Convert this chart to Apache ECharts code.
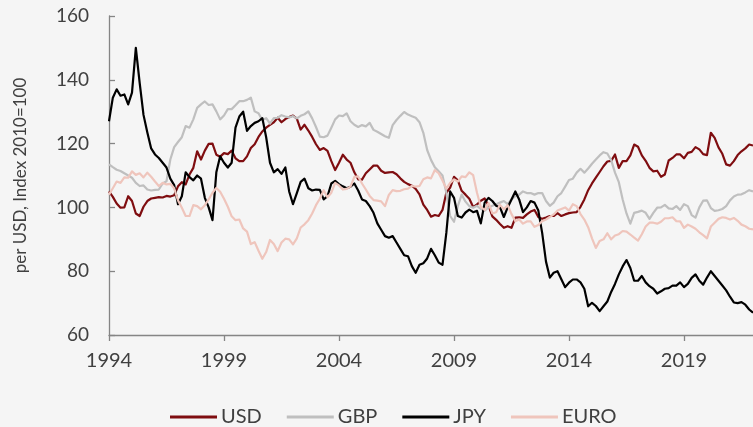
<!DOCTYPE html>
<html>
<head>
<meta charset="utf-8">
<script src="https://cdn.jsdelivr.net/npm/echarts@6/dist/echarts.min.js"></script>
<style>
  html, body { margin: 0; padding: 0; background: #f5f5f5; }
  #chart { width: 753px; height: 427px; }
</style>
</head>
<body>
<div id="chart"></div>
<script>
// Bimonthly observations, January 1994 onwards (index 2010 = 100, per USD)
const startYear = 1994;
const stepMonths = 2;
const tickYears = ['1994', '1999', '2004', '2009', '2014', '2019'];
const yTicks = [60, 80, 100, 120, 140, 160];

const usd = [
  105, 103.3, 101.2, 99.9, 100, 103.5, 102, 98.1, 97.3, 100.2, 102, 102.8, 103, 103.2, 103.1, 103.6, 103.4, 103.8, 106.6, 107.9, 107.2, 110.3, 112.4, 117.6,
  115, 117.8, 119.9, 120, 116.5, 115.9, 117, 116.7, 117.8, 115.4, 114.5, 114.5, 116, 118.6, 119.8, 122.1, 123.8, 125, 125.9, 126.7, 128.1, 126.7, 127.7, 128.3,
  128.8, 127.8, 124.4, 125.9, 124.1, 122.1, 119.8, 118, 118.6, 117.7, 114.5, 111.7, 114, 116.5, 115, 114, 111, 108.8, 108.7, 110.7, 111.9, 113.1, 113.1, 111.5,
  110.8, 111, 111.1, 110.4, 109.1, 108, 107.3, 106.8, 105.8, 104.1, 100.9, 99.2, 97.1, 97.6, 97.3, 99.2, 104.6, 106.2, 109.6, 108.5, 105.2, 104, 102.7, 100.1,
  100.9, 102.1, 102.8, 100.6, 97.2, 96.1, 94.8, 93.6, 94.1, 93.6, 96.8, 96.9, 96.7, 97.8, 98.7, 99.2, 97, 96.4, 96.8, 97.3, 97.3, 98.2, 97.3, 97.8,
  98.2, 98.4, 98.5, 100.2, 102.5, 105.4, 107.5, 109.3, 111.1, 112.9, 114.4, 114.6, 116.6, 112.4, 114.5, 114.5, 116.3, 119.7, 119, 116.3, 114.6, 112.4, 111.3, 111.5,
  109.6, 110.3, 114.7, 115.5, 116.6, 116.6, 115.4, 117.1, 117.4, 118.9, 118.2, 116.7, 116.4, 123.4, 121.8, 118.8, 116.8, 113.5, 113.1, 114.5, 116.4, 117.6, 118.5, 119.7, 119.4
];

const gbp = [
  113.5, 112.6, 111.8, 111.4, 110.7, 110, 109.3, 107.7, 106.7, 106.9, 105.6, 105.3, 105.5, 105.6, 107.5, 108.2, 115, 118.9, 120.5, 122, 125.5, 125, 127.6, 131.2,
  132.3, 133.2, 132.1, 132.3, 130.1, 127.6, 128.8, 130.8, 130.8, 132, 133.3, 133.3, 133.7, 134.4, 130.1, 129.5, 127.3, 128, 126.3, 128, 128.1, 128.9, 128.5, 128.2,
  128.6, 127.9, 128.7, 129.2, 130.1, 127.9, 125.2, 122.2, 122, 122.5, 125, 127.6, 128.8, 128.6, 129.5, 127, 125.9, 125.2, 125.8, 125.4, 126.5, 124.3, 123.7, 123,
  122.3, 121.8, 125.8, 127.4, 128.7, 129.9, 129.1, 128.6, 128.1, 126.7, 123.4, 118, 114.9, 112.6, 111.3, 110, 104.6, 97.3, 95.5, 100.4, 104, 101.8, 100.4, 99.9,
  100.5, 99.5, 99, 100, 100.5, 101, 101.5, 102, 101, 102.5, 103.5, 104, 105, 104.5, 104.5, 104, 104.5, 104.5, 102, 100.5, 101.5, 103.5, 104.5, 106.5,
  108.6, 109, 110.9, 112.1, 110.9, 112.2, 113.7, 115, 116.3, 117.3, 116.9, 114.8, 110.9, 107.9, 102.5, 98.1, 94.9, 98.3, 98.6, 99, 98.3, 96.4, 98.3, 99.9,
  100, 100.8, 99.7, 99.5, 100.4, 99.2, 101, 100.4, 97.6, 96.8, 100, 102.1, 102.2, 99.8, 98.9, 99.1, 99.5, 100.4, 102.2, 103.4, 104, 104.1, 104.7, 105.4, 105
];

const jpy = [
  127, 134.4, 137, 135, 135.4, 132.3, 136, 150, 139, 129, 123.5, 118.5, 116.6, 115.5, 114, 112.5, 109, 107, 101, 103.5, 111, 109.5, 108.5, 110,
  109, 103, 100, 96, 111, 116, 114, 112.5, 114, 125, 128.5, 130, 124, 125.5, 126.5, 127, 128, 122, 114, 111, 112, 110.5, 112.5, 105,
  101, 104.5, 108, 109, 106, 105.3, 105.6, 105.5, 102.5, 103.5, 107.5, 108.3, 107.3, 106.6, 106, 106.5, 107.5, 105.3, 102.5, 102, 100.4, 98.3, 95, 93,
  91, 90.5, 91, 89, 87, 85, 84.7, 81.6, 79.5, 82, 82.5, 84, 87, 85, 82.7, 82, 92, 105, 103, 97.3, 96.8, 98.4, 99.3, 98.5,
  98.9, 95, 101.5, 103, 102, 100.5, 100, 97, 100, 102.5, 105, 102.5, 98.5, 100, 102, 101.5, 99, 92, 83, 78, 79.5, 80, 77.5, 75,
  76.4, 77.4, 77.4, 76.5, 74.5, 69, 70.1, 69.1, 67.5, 69, 70.5, 73.5, 76, 79, 81.5, 83.5, 81, 77, 77, 78.5, 76.5, 75.3, 74.5, 73,
  73.7, 74.5, 74.7, 75.5, 75.5, 76.5, 75, 76, 77.9, 79, 77, 75.8, 78, 80, 78.5, 77, 75.5, 74, 72, 70.2, 70, 70.3, 69.5, 68, 67
];

const euro = [
  104, 106, 108.1, 107.7, 109.4, 109.3, 111.3, 110.2, 110.7, 109.4, 110.9, 109.6, 108.1, 106.7, 107.7, 107.2, 107.4, 106, 102.2, 99.9, 97.3, 97.3, 100.7, 100.4,
  99.4, 100.7, 102.5, 104.6, 106.1, 104.9, 102.7, 100.2, 97.2, 96, 96.2, 93.4, 92.4, 88.5, 89.1, 86.4, 83.9, 86, 89.8, 88.5, 86.3, 89, 90.2, 90,
  88.4, 90.3, 93.7, 94.7, 96, 98.1, 100.7, 102.7, 105.4, 103.2, 104.6, 107.7, 106.9, 105.6, 105.8, 106.5, 109.6, 109.7, 107.5, 105.6, 103.6, 102.3, 102.1, 101.9,
  100.4, 103.9, 105.4, 105.1, 105.2, 105.7, 105.9, 106.7, 106.5, 106.7, 108.8, 109.4, 109.1, 111.7, 110.7, 108.4, 105.9, 107.7, 108.8, 108.1, 109.7, 109.5, 111, 110.1,
  104.6, 100.1, 99.2, 101.4, 98.1, 98.5, 100.8, 99.4, 100.7, 97.9, 95.7, 96.2, 94.9, 95.6, 95.6, 93.9, 94.5, 95.7, 96.2, 97, 97.8, 99, 99.5, 100,
  99, 101, 100.4, 97.9, 96.2, 93.8, 90.3, 87.3, 89.5, 90, 91.9, 90, 91.2, 91.6, 92.6, 92.4, 91.5, 90.5, 89.6, 91.6, 94, 95.2, 95.2, 94.9,
  95.5, 96.6, 96.6, 96.9, 95.7, 95.6, 93.6, 94.6, 94, 93.3, 92.2, 91.3, 90.3, 94, 95.2, 96.4, 96.9, 96.7, 96.2, 96.7, 95.8, 94.6, 94.1, 93.3, 93.1
];

// Category labels: one per observation, "YYYY-MM"
const dates = usd.map((_, i) => {
  const m = i * stepMonths;
  const y = startYear + Math.floor(m / 12);
  const mm = (m % 12) + 1;
  return y + '-' + (mm < 10 ? '0' + mm : mm);
});
const perTick = 60 / stepMonths; // five years between labelled ticks

const textColor = '#404040';
const axisColor = '#858585';
const font = 'Lato, "Open Sans", sans-serif';

const chart = echarts.init(document.getElementById('chart'), null, { renderer: 'canvas' });

function lineSeries(name, data, color, width) {
  return {
    name: name,
    type: 'line',
    data: data,
    showSymbol: false,
    symbol: 'none',
    smooth: false,
    lineStyle: { color: color, width: width, join: 'round' },
    itemStyle: { color: color },
    emphasis: { disabled: true },
    animation: false
  };
}

chart.setOption({
  backgroundColor: '#f5f5f5',
  animation: false,
  textStyle: { fontFamily: font },
  grid: { left: 109, right: 0, top: 16, bottom: 92, containLabel: false },
  legend: {
    top: 402,
    left: 165,
    icon: 'rect',
    itemWidth: 47,
    itemHeight: 3,
    itemGap: 25,
    textStyle: { color: textColor, fontSize: 20, fontFamily: font, padding: [0, 0, 0, -1] },
    data: ['USD', 'GBP', 'JPY', 'EURO']
  },
  xAxis: {
    type: 'category',
    data: dates,
    boundaryGap: false,
    axisLine: { show: true, lineStyle: { color: axisColor, width: 1.3 } },
    axisTick: { show: true, interval: perTick - 1, length: 6, lineStyle: { color: axisColor, width: 1.3 } },
    axisLabel: {
      interval: perTick - 1,
      color: textColor,
      fontSize: 20,
      fontFamily: font,
      margin: 16,
      formatter: (v, i) => tickYears[i / perTick] || ''
    },
    splitLine: { show: false }
  },
  yAxis: {
    type: 'value',
    min: yTicks[0],
    max: yTicks[yTicks.length - 1],
    interval: 20,
    name: 'per USD, Index 2010=100',
    nameLocation: 'middle',
    nameGap: 80,
    nameRotate: 90,
    nameTextStyle: { color: textColor, fontSize: 17, fontFamily: font },
    axisLine: { show: true, lineStyle: { color: axisColor, width: 1.3 } },
    axisTick: { show: true, inside: true, length: 6, lineStyle: { color: axisColor, width: 1.3 } },
    axisLabel: { color: textColor, fontSize: 19, fontFamily: font, margin: 20 },
    splitLine: { show: false }
  },
  series: [
    lineSeries('USD', usd, '#7f0d10', 2.2),
    lineSeries('GBP', gbp, '#bfbfbf', 2.2),
    lineSeries('JPY', jpy, '#000000', 2.2),
    lineSeries('EURO', euro, '#efc5bc', 2.2)
  ]
});
</script>
</body>
</html>
